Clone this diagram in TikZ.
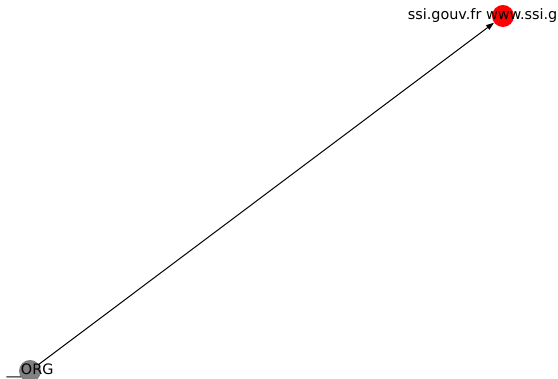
\documentclass[tikz,border=0pt]{standalone}
\usepackage{fontspec}
\setmainfont{DejaVu Sans}
\usepackage{xcolor}
\usetikzlibrary{arrows.meta}
\definecolor{orggray}{HTML}{808080}
\definecolor{sitered}{HTML}{FF0000}
\tikzset{
  vertex/.style={circle,inner sep=0pt,minimum size=22pt,draw=none},
  vlabel/.style={inner sep=0pt,font=\fontsize{14.4}{17}\selectfont}
}

\begin{document}
\begin{tikzpicture}[x=1pt,y=1pt,>={Triangle[length=8pt,width=5.5pt]}]
\useasboundingbox (0,0) rectangle (558,379);
\clip (0,0) rectangle (558,379);
% nodes
\node[vertex,fill=orggray] (org) at (30,8) {};
\node[vertex,fill=sitered] (ssi) at (503,363) {};
% edge
\draw[->,line width=1pt] (org) -- (ssi);
% labels
\node[vlabel] (orglbl) at (org) {\_\_ORG};
\node[vlabel] (ssilbl) at (ssi) {ssi.gouv.fr www.ssi.gouv.fr};
\end{tikzpicture}
\end{document}
